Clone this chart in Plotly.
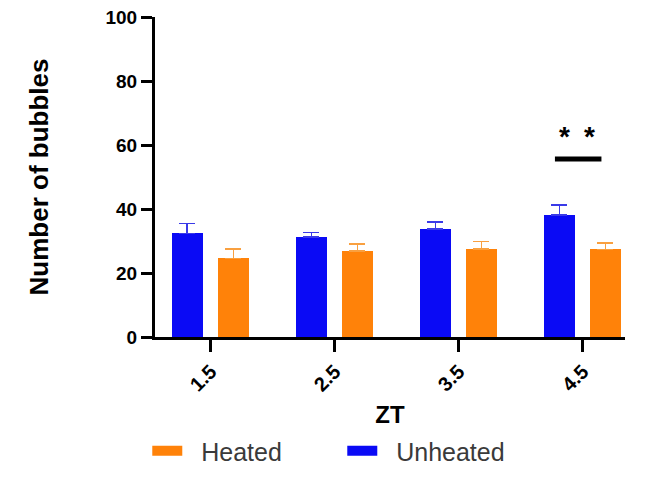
import plotly.graph_objects as go

categories = ["1.5", "2.5", "3.5", "4.5"]
unheated = [32.4, 31.3, 33.8, 38.1]
unheated_err = [3.1, 1.4, 2.1, 3.1]
heated = [24.6, 26.9, 27.5, 27.4]
heated_err = [2.9, 2.1, 2.3, 1.9]
legend_names = ["Heated", "Unheated"]
sig_label = "*\u2002*"
sig_index = 3
sig_y = 55.6

BLUE = "#0a0af5"
ORANGE = "#ff8209"
FONT = "Liberation Sans, Arial, sans-serif"

xpos = list(range(len(categories)))

fig = go.Figure()
fig.add_trace(go.Bar(
    x=xpos, y=unheated, name="Unheated", marker=dict(color=BLUE, line=dict(width=0)),
    width=0.25, offset=-0.315, showlegend=False,
    error_y=dict(type="data", array=unheated_err, arrayminus=[0]*4, symmetric=False,
                 color="#3a3ae8", thickness=1.5, width=8),
))
fig.add_trace(go.Bar(
    x=xpos, y=heated, name="Heated", marker=dict(color=ORANGE, line=dict(width=0)),
    width=0.25, offset=0.056, showlegend=False,
    error_y=dict(type="data", array=heated_err, arrayminus=[0]*4, symmetric=False,
                 color="#f9a040", thickness=1.5, width=8),
))
# legend entries (wide swatches)
for name, col in zip(legend_names, [ORANGE, BLUE]):
    fig.add_trace(go.Scatter(x=[None], y=[None], mode="lines", name="\u00a0\u00a0" + name,
                             line=dict(color=col, width=16), hoverinfo="skip"))

# significance marker
fig.add_shape(type="line", x0=sig_index - 0.225, x1=sig_index + 0.15, y0=sig_y, y1=sig_y,
              xref="x", yref="y", line=dict(color="black", width=5))
fig.add_annotation(x=sig_index - 0.05, y=sig_y + 7, text=sig_label, showarrow=False,
                   xref="x", yref="y", yanchor="middle",
                   font=dict(family=FONT, size=28, color="black", weight="bold"))

fig.update_layout(
    width=654, height=477,
    margin=dict(l=155, r=29, t=17, b=140),
    plot_bgcolor="white", paper_bgcolor="white",
    font=dict(family=FONT, color="black"),
    showlegend=True,
    legend=dict(orientation="h", x=0.2252, xanchor="left", xref="container",
                y=0.0545, yref="container", yanchor="middle",
                font=dict(family=FONT, size=25, color="#3a3a3a"),
                entrywidth=150, entrywidthmode="pixels", traceorder="normal"),
    bargap=0,
)
fig.update_xaxes(
    range=[-0.45, 3.34], tickmode="array", tickvals=xpos, ticktext=categories,
    tickangle=-45, ticks="outside", ticklen=12, tickwidth=2.5, tickcolor="black",
    showline=True, linecolor="black", linewidth=3, showgrid=False, zeroline=False,
    automargin=False,
    tickfont=dict(family=FONT, size=20, color="black", weight="bold"),
    title=dict(text="<b>ZT</b>", font=dict(family=FONT, size=24, color="black"), standoff=31),
)
fig.update_yaxes(
    range=[0, 100], tickvals=[0, 20, 40, 60, 80, 100], ticks="outside", ticklen=11,
    tickwidth=2.5, tickcolor="black", showline=True, linecolor="black", linewidth=3,
    showgrid=False, zeroline=False, ticksuffix="\u00a0", automargin=False,
    tickfont=dict(family=FONT, size=19, color="black", weight="bold"),
    title=dict(text="<b>Number of bubbles</b>", font=dict(family=FONT, size=26, color="black"), standoff=50),
)

fig.write_html("out.html")
